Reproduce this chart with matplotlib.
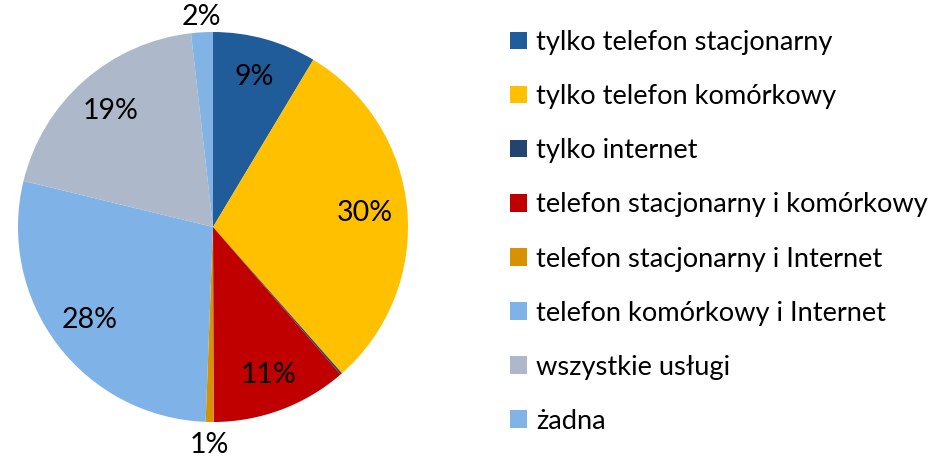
import numpy as np
import matplotlib
matplotlib.use("Agg")
import matplotlib.pyplot as plt
from matplotlib.patches import Patch

plt.rcParams["font.family"] = ["Lato", "DejaVu Sans"]

# ── Data ─────────────────────────────────────────────────
categories = [
    "tylko telefon stacjonarny",
    "tylko telefon komórkowy",
    "tylko internet",
    "telefon stacjonarny i komórkowy",
    "telefon stacjonarny i Internet",
    "telefon komórkowy i Internet",
    "wszystkie usługi",
    "żadna",
]
shares = [8.6, 29.9, 0.15, 11.3, 0.65, 28.2, 19.4, 1.8]
colors = ["#1F5C99", "#FFC000", "#22446E", "#C00000",
          "#D69200", "#7FB2E6", "#ADB9CA", "#82B3E5"]

# label radial distance per slice (None = no label)
label_dist = [0.80, 0.78, None, 0.81, 1.12, 0.79, 0.79, 1.08]

fig = plt.figure(figsize=(9.4, 4.62), dpi=100)
ax = fig.add_axes([18 / 940, 40 / 462, 390 / 940, 390 / 462])

wedges, _ = ax.pie(shares, colors=colors, startangle=90, counterclock=False,
                   radius=1.0, wedgeprops=dict(linewidth=0))
ax.set_xlim(-1, 1)
ax.set_ylim(-1, 1)
ax.set_aspect("equal")

total = sum(shares)
cum = np.cumsum([0] + shares[:-1])
for val, start, d in zip(shares, cum, label_dist):
    if d is None:
        continue
    theta = np.deg2rad((start + val / 2) / total * 360)
    ax.text(d * np.sin(theta), d * np.cos(theta), f"{round(val)}%",
            ha="center", va="center", fontsize=20.5, color="black")

handles = [Patch(facecolor=c, edgecolor="none") for c in colors]
fig.legend(handles, categories, loc="upper left",
           bbox_to_anchor=(510 / 940, 1 - 30 / 462),
           frameon=False, fontsize=19.6, handlelength=0.62, handleheight=0.62,
           handletextpad=0.33, labelspacing=1.07, borderaxespad=0,
           borderpad=0)

fig.savefig("out.png", dpi=100)
